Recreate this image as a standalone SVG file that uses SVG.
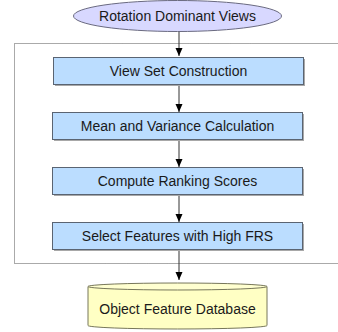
<svg xmlns="http://www.w3.org/2000/svg" width="338" height="332" viewBox="0 0 338 332">
  <defs>
    <marker id="arrow" markerWidth="8" markerHeight="10" refX="8" refY="3.5" orient="auto" markerUnits="userSpaceOnUse">
      <path d="M0,0 L8,3.5 L0,7 Z" fill="#000"/>
    </marker>
  </defs>
  <style>
    text { font-family: "Liberation Sans", Arial, sans-serif; font-size: 14px; fill: #1a1a1a; text-anchor: middle; }
    .step rect.body { fill: #bbddff; stroke: #5a6472; stroke-width: 1; }
    .step rect.shadow { fill: #a8a8a8; }
    .edge { stroke: #333; stroke-width: 1; fill: none; marker-end: url(#arrow); }
  </style>

  <!-- dotted frame around the processing steps -->
  <rect x="14.5" y="43.5" width="340" height="220" fill="none" stroke="#555" stroke-width="1" stroke-dasharray="1,1"/>

  <!-- connectors -->
  <g id="connectors">
    <line class="edge" x1="179" y1="31" x2="179" y2="56"/>
    <line class="edge" x1="179" y1="85" x2="179" y2="112"/>
    <line class="edge" x1="179" y1="140" x2="179" y2="167"/>
    <line class="edge" x1="179" y1="195" x2="179" y2="222"/>
    <line class="edge" x1="179" y1="250" x2="179" y2="280"/>
  </g>

  <g id="rotation-dominant-views">
    <ellipse cx="177.5" cy="16" rx="104" ry="15.5" fill="#d8d8ff" stroke="#6a6a80" stroke-width="1"/>
    <text x="177.5" y="21">Rotation Dominant Views</text>
  </g>

  <g id="view-set-construction" class="step">
    <rect class="shadow" x="55" y="59" width="250" height="27"/>
    <rect class="body" x="53.5" y="57.5" width="250" height="27"/>
    <text x="178.5" y="76">View Set Construction</text>
  </g>

  <g id="mean-variance" class="step">
    <rect class="shadow" x="54" y="114" width="250" height="27"/>
    <rect class="body" x="52.5" y="112.5" width="250" height="27"/>
    <text x="177.5" y="131">Mean and Variance Calculation</text>
  </g>

  <g id="ranking-scores" class="step">
    <rect class="shadow" x="54" y="169" width="250" height="27"/>
    <rect class="body" x="52.5" y="167.5" width="250" height="27"/>
    <text x="177.5" y="186">Compute Ranking Scores</text>
  </g>

  <g id="select-features" class="step">
    <rect class="shadow" x="54" y="224" width="250" height="27"/>
    <rect class="body" x="52.5" y="222.5" width="250" height="27"/>
    <text x="177.5" y="241">Select Features with High FRS</text>
  </g>

  <g id="object-feature-database">
    <path d="M88,286.5 L88,325.5 A89.5,3.5 0 0 0 267,325.5 L267,286.5" fill="#ffffc4" stroke="#77775a" stroke-width="1"/>
    <ellipse cx="177.5" cy="286.5" rx="89.5" ry="3.5" fill="#ffffd0" stroke="#77775a" stroke-width="1"/>
    <text x="177.5" y="314">Object Feature Database</text>
  </g>
</svg>
